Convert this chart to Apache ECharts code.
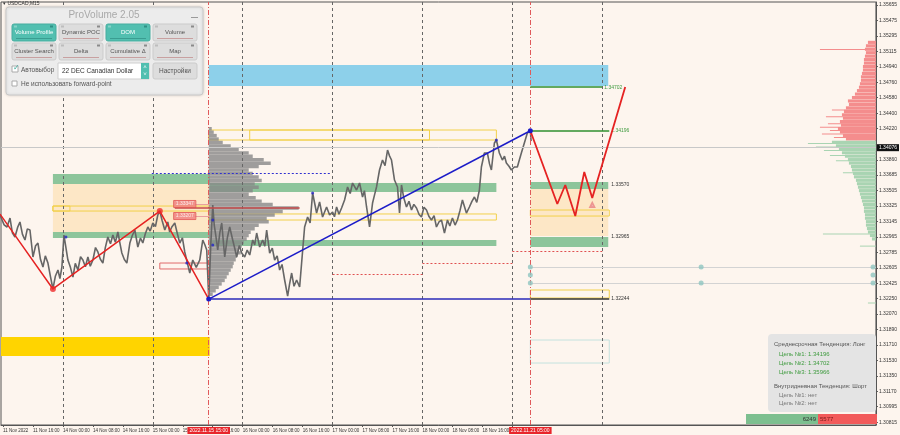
<!DOCTYPE html>
<html>
<head>
<meta charset="utf-8">
<script src="https://cdn.jsdelivr.net/npm/echarts@6/dist/echarts.min.js"></script>
<style>
  html, body { margin: 0; padding: 0; background: #fdf5ee; }
  #chart { width: 900px; height: 435px; }
</style>
</head>
<body>
<div id="chart"></div>
<script>
// time axis: trading hours counted from 11 Nov 2022 00:00, weekend removed
const X_MIN = 7.467, X_MAX = 241.07;
const Y_MIN = 1.30783, Y_MAX = 1.3569;

const dateTicks = [8, 16, 24, 32, 40, 48, 56, 64, 72, 80, 88, 96, 104, 112, 120, 128, 136, 144];
const dateLabels = ['11 Nov 2022', '11 Nov 16:00', '14 Nov 00:00', '14 Nov 08:00', '14 Nov 16:00',
  '15 Nov 00:00', '15 Nov 08:00', '15 Nov 16:00', '16 Nov 00:00', '16 Nov 08:00', '16 Nov 16:00',
  '17 Nov 00:00', '17 Nov 08:00', '17 Nov 16:00', '18 Nov 00:00', '18 Nov 08:00', '18 Nov 16:00', '21 Nov 00:00'];
const dayStarts = [24, 48, 72, 96, 120, 144, 168];
const priceTicks = [1.35655, 1.35475, 1.35295, 1.35115, 1.3494, 1.3476, 1.3458, 1.344, 1.3422,
  1.3386, 1.33685, 1.33505, 1.33325, 1.33145, 1.32965, 1.32785, 1.32605, 1.32425, 1.3225,
  1.3207, 1.3189, 1.3171, 1.3153, 1.3135, 1.3117, 1.30995, 1.30815];

// USDCAD M15 price path
const priceHours = [7.2, 7.73, 8.3, 9.07, 9.87, 10.5, 11.2, 11.9, 12.53, 13.2, 13.87, 14.5, 15.2, 16.0,
  16.7, 17.33, 18.0, 18.67, 19.3, 20.0, 20.7, 21.33, 22.0, 22.67, 23.2, 23.73, 24.27, 24.8, 25.33,
  26.0, 26.67, 27.3, 28.0, 28.7, 29.33, 30.0, 30.67, 31.3, 32.0, 32.7, 33.33, 34.0, 34.67, 35.3,
  36.0, 36.7, 37.33, 38.0, 38.67, 39.2, 39.73, 40.4, 41.07, 41.87, 42.5, 43.2, 44.0, 44.7, 45.33,
  46.0, 46.67, 47.3, 48.0, 48.7, 49.33, 49.87, 50.5, 51.2, 52.0, 52.5, 53.07, 53.87, 54.5, 55.2,
  55.9, 56.53, 57.2, 57.87, 58.67, 59.6, 60.53, 61.33, 61.9, 62.4, 62.93,
  63.47, 64.0, 64.4, 64.8, 65.33, 65.9, 66.4, 67.2, 67.9, 68.53, 69.33, 69.9, 70.4, 71.1, 71.73,
  72.53, 73.2, 73.87, 74.67, 75.2, 75.73, 76.53, 77.33, 77.9, 78.4, 79.2, 79.9, 80.53, 81.2,
  81.87, 82.5, 83.2, 84.0, 84.5, 85.07, 85.7, 86.4, 87.2, 87.73, 88.53, 89.33, 90.0, 90.67, 91.73,
  92.53, 93.33, 94.4, 95.2, 96.0, 96.5, 97.07, 97.7, 98.4, 99.2, 100.0, 100.7, 101.33, 102.4,
  103.2, 104.0, 104.5, 105.07, 105.87, 106.67, 107.2, 107.73, 108.53, 109.33, 110.0, 110.67,
  111.2, 111.73, 112.53, 113.33, 113.87, 114.4, 115.0, 115.73, 116.4, 117.07, 117.7, 118.4,
  119.1, 119.73, 120.4, 121.07, 121.7, 122.4, 123.1, 123.73, 124.4, 125.07, 125.87, 126.67,
  127.3, 128.0, 128.7, 129.33, 130.0, 130.67, 131.73, 132.53, 133.2, 133.87, 134.5, 135.2,
  135.73, 136.53, 137.33, 137.9, 138.4, 139.2, 139.73, 140.53, 141.33, 141.9, 142.4, 143.1,
  143.73, 144.53, 145.33, 145.9, 146.4, 147.2, 148.0, 148.8, 149.0];
const priceClose = [1.33219, 1.33196, 1.33105, 1.3308, 1.33184, 1.33012, 1.32964, 1.33075, 1.33138,
  1.32995, 1.32929, 1.33058, 1.33045, 1.32732, 1.32862, 1.32894, 1.32705, 1.32616, 1.32745, 1.32662,
  1.32498, 1.32361, 1.32512, 1.32581, 1.32482, 1.32616, 1.32987, 1.32842, 1.32697, 1.32612, 1.325,
  1.32658, 1.32581, 1.32735, 1.32697, 1.32618, 1.32732, 1.32625, 1.32697, 1.32842, 1.3279, 1.32705,
  1.32662, 1.32838, 1.32964, 1.32885, 1.32987, 1.32902, 1.33022, 1.32895, 1.32778, 1.32702, 1.32662,
  1.32894, 1.32978, 1.33045, 1.32848, 1.32952, 1.32894, 1.33002, 1.3308, 1.33032, 1.33126, 1.33085,
  1.33219, 1.33265, 1.33152, 1.33045, 1.33138, 1.33022, 1.3308, 1.33126, 1.33012, 1.32894, 1.32955,
  1.3279, 1.32668, 1.32546, 1.32697, 1.32612, 1.32697, 1.32929, 1.32874, 1.32813, 1.32244,
  1.32871, 1.33335, 1.33102, 1.32987, 1.32813, 1.33015, 1.33126, 1.32732, 1.32955, 1.3308, 1.32929,
  1.32828, 1.32732, 1.32865, 1.32778, 1.32732, 1.32812, 1.32755, 1.32929, 1.32872, 1.3301, 1.32848,
  1.32929, 1.32858, 1.33045, 1.32778, 1.32835, 1.32697, 1.32745, 1.32581, 1.32645, 1.32465, 1.32279,
  1.32415, 1.32546, 1.32392, 1.32465, 1.32384, 1.32662, 1.3308, 1.33196, 1.33128, 1.33474, 1.33242,
  1.3337, 1.33196, 1.33312, 1.33219, 1.33254, 1.33198, 1.33312, 1.33228, 1.333, 1.33393, 1.33544,
  1.33468, 1.3359, 1.33509, 1.3359, 1.33428, 1.33502, 1.33312, 1.3308, 1.33358, 1.33452, 1.33544,
  1.33741, 1.33857, 1.33792, 1.33973, 1.33905, 1.33857, 1.33625, 1.33544, 1.33242, 1.33567,
  1.33418, 1.33312, 1.33378, 1.33277, 1.33342, 1.333, 1.33225, 1.33196, 1.3331, 1.33277, 1.33205,
  1.33161, 1.33212, 1.3308, 1.33138, 1.33161, 1.3301, 1.33161, 1.33092, 1.33184, 1.33102, 1.33161,
  1.33268, 1.33393, 1.33242, 1.33312, 1.33378, 1.33428, 1.33365, 1.33509, 1.33776, 1.33938, 1.33938,
  1.33812, 1.33741, 1.34054, 1.34089, 1.33938, 1.33857, 1.33902, 1.33822, 1.33785, 1.33741, 1.33776,
  1.33776, 1.33862, 1.33938, 1.34054, 1.3417, 1.34196, 1.34076];
const lastPrice = 1.34076;

// zigzag, trend and forecast
const zigHours = [7.2, 21.33, 49.87, 62.93];
const zigPrices = [1.3323, 1.32361, 1.33265, 1.32244];
const trendHours = [62.93, 148.8];
const trendPrices = [1.32244, 1.34196];
const fcHours = [148.8, 156.0, 158.13, 160.8, 163.2, 165.33, 174.13];
const fcPrices = [1.34196, 1.33347, 1.33567, 1.33207, 1.33718, 1.33416, 1.34704];
const targets = [1.34196, 1.34702, 1.35966];

// volume profiles [price, volume]
const leftProfile = [[1.3422, 3], [1.3418, 5], [1.3414, 8], [1.341, 10], [1.3406, 14], [1.3402, 22],
  [1.3398, 30], [1.3394, 40], [1.339, 44], [1.3386, 55], [1.3382, 62], [1.3378, 50], [1.3374, 40],
  [1.337, 44], [1.3366, 50], [1.3362, 53], [1.3358, 46], [1.3354, 50], [1.335, 44], [1.3346, 40],
  [1.3342, 47], [1.3338, 53], [1.3334, 64], [1.333, 90], [1.3326, 74], [1.3322, 66], [1.3318, 58],
  [1.3314, 60], [1.331, 50], [1.3306, 46], [1.3302, 42], [1.3298, 40], [1.3294, 38], [1.329, 35],
  [1.3286, 33], [1.3282, 30], [1.3278, 32], [1.3274, 28], [1.327, 27], [1.3266, 25], [1.3262, 24],
  [1.3258, 22], [1.3254, 20], [1.325, 18], [1.3246, 16], [1.3242, 13], [1.3238, 10], [1.3234, 7], [1.323, 4]];
const sellProfile = [[1.3522, 8], [1.3518, 10], [1.3514, 11], [1.351, 10], [1.3506, 11], [1.3502, 12],
  [1.3498, 12], [1.3494, 13], [1.349, 13], [1.3486, 14], [1.3482, 15], [1.3478, 15], [1.3474, 16],
  [1.347, 17], [1.3466, 19], [1.3462, 21], [1.3458, 24], [1.3454, 28], [1.345, 27], [1.3446, 30],
  [1.3442, 32], [1.3438, 34], [1.3434, 33], [1.343, 36], [1.3426, 35], [1.3422, 38], [1.3418, 36],
  [1.3414, 33], [1.341, 30]];
const sellSpikes = [[1.3514, 56], [1.3444, 44], [1.3436, 50], [1.3428, 48], [1.3424, 56], [1.342, 46],
  [1.3416, 54], [1.3412, 42]];
const buyProfile = [[1.3406, 44], [1.3402, 40], [1.3398, 37], [1.3394, 34], [1.339, 31], [1.3386, 28],
  [1.3382, 27], [1.3378, 25], [1.3374, 24], [1.337, 23], [1.3366, 22], [1.3362, 20], [1.3358, 19],
  [1.3354, 18], [1.335, 17], [1.3346, 16], [1.3342, 15], [1.3338, 14], [1.3334, 13], [1.333, 12],
  [1.3326, 12], [1.3322, 11], [1.3318, 11], [1.3314, 10], [1.331, 10], [1.3306, 9], [1.3302, 8],
  [1.3298, 6], [1.3294, 4]];
const buySpikes = [[1.3405, 68], [1.3401, 60], [1.3397, 52], [1.3391, 46], [1.3385, 40], [1.3371, 33],
  [1.33, 53], [1.3286, 16], [1.322, 8], [1.318, 6], [1.3158, 20]];
const buyTotal = 6249, sellTotal = 5577;

const FONT = 'Liberation Sans, Arial, sans-serif';
const zip = (a, b) => a.map((v, i) => [v, b[i]]);

const chart = echarts.init(document.getElementById('chart'));

function profile(bins, anchor, dir, color, binH, gap) {
  return {
    type: 'custom', silent: true, z: 2, data: bins,
    renderItem(params, api) {
      const p = api.value(0);
      const w = api.value(1);
      const a = api.coord([anchor, p + binH / 2]);
      const b = api.coord([anchor, p - binH / 2]);
      return {
        type: 'rect',
        shape: { x: dir > 0 ? a[0] : a[0] - w, y: a[1], width: w, height: Math.max(1, b[1] - a[1] - gap) },
        style: { fill: color }
      };
    }
  };
}

function box(x1, p1, x2, p2, style) {
  return [{ coord: [x1, p1], itemStyle: style }, { coord: [x2, p2] }];
}
const green = { color: '#8dc59b' };
const orange = { color: '#fde7c6' };
const yellowLine = { color: 'rgba(0,0,0,0)', borderColor: '#f2d04a', borderWidth: 1 };

function seg(x1, x2, p, color, width, type, label) {
  return [{
    coord: [x1, p], lineStyle: { color, width, type },
    label: label ? { show: true, position: 'end', distance: 2, formatter: label.text, color: label.color,
      fontSize: 5, fontFamily: FONT } : { show: false }
  }, { coord: [x2, p] }];
}

// panel drawing helpers
function txt(x, y, text, size, color, align) {
  return { type: 'text', x, y, z: 101, style: { text, fill: color, fontSize: size, fontFamily: FONT,
    textAlign: align || 'left', textVerticalAlign: 'middle' } };
}
function btn(x, y, label, active) {
  return [
    { type: 'rect', z: 100, shape: { x, y, width: 44, height: 17, r: 2 },
      style: { fill: active ? '#52bfb0' : '#dddddd', stroke: active ? '#47ad9f' : '#cbcbcb' } },
    { type: 'rect', z: 101, shape: { x: x + 2, y: y + 1.5, width: 3, height: 2 }, style: { fill: active ? '#86d3c8' : '#bdbdbd' } },
    { type: 'rect', z: 101, shape: { x: x + 38, y: y + 1.5, width: 3, height: 2 }, style: { fill: active ? '#2f8f84' : '#8a8a8a' } },
    { type: 'rect', z: 101, shape: { x: x + 4, y: y + 14, width: 36, height: 1 }, style: { fill: active ? '#3a9d91' : '#c8a0a0' } },
    txt(x + 22, y + 8.5, label, 6, active ? '#ffffff' : '#555555', 'center')
  ];
}

const panel = [
  { type: 'rect', z: 100, shape: { x: 6, y: 7, width: 197, height: 88, r: 3 },
    style: { fill: '#ececec', stroke: '#c9c9c9', shadowBlur: 3, shadowColor: 'rgba(0,0,0,0.15)' } },
  txt(104, 15, 'ProVolume 2.05', 10, '#a9a9a9', 'center'),
  { type: 'rect', z: 101, shape: { x: 191, y: 17, width: 7, height: 1 }, style: { fill: '#9a9a9a' } },
  ...btn(12, 24, 'Volume Profile', true), ...btn(59, 24, 'Dynamic POC', false),
  ...btn(106, 24, 'DOM', true), ...btn(153, 24, 'Volume', false),
  ...btn(12, 43, 'Cluster Search', false), ...btn(59, 43, 'Delta', false),
  ...btn(106, 43, 'Cumulative Δ', false), ...btn(153, 43, 'Map', false),
  { type: 'rect', z: 101, shape: { x: 12, y: 66, width: 6, height: 6 }, style: { fill: '#fff', stroke: '#aaa' } },
  txt(13, 67.5, '✓', 8, '#3aa99b'),
  txt(21, 70.5, 'Автовыбор', 6.5, '#555'),
  { type: 'rect', z: 100, shape: { x: 58, y: 63, width: 91, height: 16 }, style: { fill: '#fff', stroke: '#cfcfcf' } },
  txt(62, 71, '22 DEC Canadian Dollar', 6.5, '#333'),
  { type: 'rect', z: 101, shape: { x: 141, y: 63, width: 8, height: 16 }, style: { fill: '#52bfb0' } },
  txt(145, 67.5, '˄', 6, '#fff', 'center'), txt(145, 74.5, '˅', 6, '#fff', 'center'),
  { type: 'rect', z: 100, shape: { x: 153, y: 63, width: 44, height: 16, r: 2 }, style: { fill: '#dddddd', stroke: '#cbcbcb' } },
  txt(175, 71, 'Настройки', 6.5, '#555', 'center'),
  { type: 'rect', z: 101, shape: { x: 12, y: 81, width: 5, height: 5 }, style: { fill: '#fff', stroke: '#aaa' } },
  txt(21, 84, 'Не использовать forward-point', 6.5, '#555'),
  txt(3, 4, '▾ USDCAD,M15', 5, '#333')
];

const info = [
  { type: 'rect', z: 100, shape: { x: 768, y: 334, width: 108, height: 78, r: 4 }, style: { fill: '#e4e4e4' } },
  txt(774, 344, 'Среднесрочная Тенденция: Лонг', 6, '#555'),
  txt(779, 354, 'Цель №1: ' + targets[0].toFixed(5), 6, '#3f9b3f'),
  txt(779, 363, 'Цель №2: ' + targets[1].toFixed(5), 6, '#3f9b3f'),
  txt(779, 372, 'Цель №3: ' + targets[2].toFixed(5), 6, '#3f9b3f'),
  txt(774, 386, 'Внутридневная Тенденция: Шорт', 6, '#555'),
  txt(779, 395, 'Цель №1: нет', 6, '#777'),
  txt(779, 403, 'Цель №2: нет', 6, '#777'),
  { type: 'rect', z: 100, shape: { x: 746, y: 414, width: 72, height: 10 }, style: { fill: '#7dbf8f' } },
  { type: 'rect', z: 100, shape: { x: 818, y: 414, width: 59, height: 10 }, style: { fill: '#f25a5a' } },
  txt(816, 419, String(buyTotal), 6, '#333', 'right'),
  txt(820, 419, String(sellTotal), 6, '#7a1a1a')
];

const option = {
  animation: false,
  backgroundColor: '#fdf5ee',
  grid: { left: 1, right: 23, top: 2, bottom: 10, show: true, backgroundColor: '#fdf5ee',
    borderColor: '#555', borderWidth: 1 },
  xAxis: {
    type: 'value', min: X_MIN, max: X_MAX,
    axisLine: { show: true, lineStyle: { color: '#555' } },
    axisTick: { show: true, customValues: dateTicks, length: 2, lineStyle: { color: '#555' } },
    axisLabel: { customValues: dateTicks, formatter: v => dateLabels[dateTicks.indexOf(v)] || '',
      fontSize: 4.5, color: '#333', fontFamily: FONT, align: 'left', margin: 3 },
    splitLine: { show: false }
  },
  yAxis: {
    type: 'value', position: 'right', min: Y_MIN, max: Y_MAX, scale: true,
    axisLine: { show: true, lineStyle: { color: '#555' } },
    axisTick: { show: true, customValues: priceTicks, length: 2, lineStyle: { color: '#555' } },
    axisLabel: { customValues: priceTicks, formatter: v => v.toFixed(5), fontSize: 5, color: '#333',
      fontFamily: FONT, margin: 3 },
    splitLine: { show: false }
  },
  graphic: [...panel, ...info],
  series: [
    {
      name: 'zones', type: 'line', data: [], z: 1, silent: true,
      markArea: {
        silent: true,
        data: [
          box(21.33, 1.33579, 63.2, 1.33022, orange),
          box(148.8, 1.33521, 169.6, 1.32975, orange),
          box(21.33, 1.33695, 63.2, 1.33579, green),
          box(21.33, 1.33022, 63.2, 1.32953, green),
          box(63.2, 1.3359, 139.73, 1.33486, green),
          box(63.2, 1.32929, 139.73, 1.32859, green),
          box(148.8, 1.33602, 169.6, 1.33521, green),
          box(148.8, 1.32964, 169.6, 1.32848, green),
          box(21.33, 1.33323, 63.2, 1.33265, yellowLine),
          box(21.33, 1.33323, 25.87, 1.33265, yellowLine),
          box(62.93, 1.33231, 139.73, 1.33161, yellowLine),
          box(62.93, 1.34205, 139.73, 1.34089, yellowLine),
          box(73.87, 1.34205, 121.87, 1.34089, yellowLine),
          box(148.8, 1.33277, 169.87, 1.33207, yellowLine),
          box(148.8, 1.32349, 169.87, 1.32256, yellowLine),
          box(62.93, 1.34959, 169.6, 1.34715, { color: '#8dd0ea' }),
          box(X_MIN, 1.31804, 63.2, 1.31583, { color: '#ffd400' }),
          box(49.87, 1.32662, 63.2, 1.32593, { color: 'rgba(0,0,0,0)', borderColor: '#e06a6a', borderWidth: 1 }),
          box(148.8, 1.31769, 169.87, 1.31502, { color: 'rgba(0,0,0,0)', borderColor: '#c4e2de', borderWidth: 1 })
        ]
      }
    },
    profile(leftProfile, 62.93, 1, 'rgba(135,135,135,0.8)', 0.0004, 0),
    profile(sellProfile, X_MAX, -1, '#f48d8d', 0.0004, 0.3),
    profile(sellSpikes, X_MAX, -1, '#f48d8d', 0.00008, 0),
    profile(buyProfile, X_MAX, -1, '#a9d4b2', 0.0004, 0.3),
    profile(buySpikes, X_MAX, -1, '#a9d4b2', 0.00008, 0),
    {
      name: 'levels', type: 'line', data: [], z: 3, silent: true,
      markLine: {
        silent: true, symbol: 'none',
        data: [
          ...dayStarts.map(d => ({ xAxis: d, lineStyle: { color: '#666', width: 1, type: [3, 3] }, label: { show: false } })),
          { xAxis: 62.93, lineStyle: { color: '#e05a5a', width: 1, type: [5, 2, 1, 2] },
            label: { show: true, position: 'start', distance: 2, formatter: '2022.11.15 15:00', color: '#fff',
              backgroundColor: '#e8262b', padding: [1, 2], fontSize: 5, fontFamily: FONT } },
          { xAxis: 148.8, lineStyle: { color: '#e05a5a', width: 1, type: [5, 2, 1, 2] },
            label: { show: true, position: 'start', distance: 2, formatter: '2022.11.21 05:00', color: '#fff',
              backgroundColor: '#e8262b', padding: [1, 2], fontSize: 5, fontFamily: FONT } },
          { yAxis: lastPrice, lineStyle: { color: '#c8c8c8', width: 1, type: 'solid' },
            label: { show: true, position: 'end', distance: 1, formatter: lastPrice.toFixed(5), color: '#fff',
              backgroundColor: '#111', padding: [1, 2], fontSize: 5, fontFamily: FONT } },
          seg(148.8, X_MAX, 1.32616, '#d3d3d3', 1, 'solid'),
          seg(148.8, X_MAX, 1.3243, '#d3d3d3', 1, 'solid'),
          seg(62.93, 148.8, 1.32244, '#2a2ab8', 1.5, 'solid'),
          seg(148.8, 169.87, 1.32244, '#333', 1.5, 'solid', { text: '1.32244', color: '#333' }),
          seg(148.8, 168, targets[1], '#2f8f2f', 1.5, 'solid', { text: '1.34702', color: '#3f9b3f' }),
          seg(148.8, 169.87, targets[0], '#2f8f2f', 1.5, 'solid', { text: '1.34196', color: '#3f9b3f' }),
          seg(148.8, 169.87, 1.3357, 'rgba(0,0,0,0)', 1, 'solid', { text: '1.33570', color: '#333' }),
          seg(148.8, 169.87, 1.32965, 'rgba(0,0,0,0)', 1, 'solid', { text: '1.32965', color: '#333' }),
          seg(53.87, 87.2, 1.333, '#c44a4a', 1.5, 'solid'),
          seg(59.2, 63.2, 1.33347, '#e8a0a0', 1, 'solid'),
          seg(59.2, 63.2, 1.33207, '#e8a0a0', 1, 'solid'),
          seg(47.73, 95.73, 1.33706, '#3030d0', 1, [2, 2]),
          seg(96, 120, 1.32535, '#e05050', 1, [2, 2]),
          seg(120, 144, 1.32662, '#e05050', 1, [2, 2]),
          seg(144, 168, 1.32801, '#e05050', 1, [2, 2])
        ]
      }
    },
    {
      name: 'USDCAD', type: 'line', data: zip(priceHours, priceClose), z: 4, symbol: 'none',
      lineStyle: { color: '#666666', width: 1.6 }
    },
    {
      name: 'zigzag', type: 'line', data: zip(zigHours, zigPrices), z: 5, symbol: 'none',
      lineStyle: { color: '#e52222', width: 1.5 }
    },
    {
      name: 'trend', type: 'line', data: zip(trendHours, trendPrices), z: 5, symbol: 'circle', symbolSize: 5,
      itemStyle: { color: '#1c1cc8' }, lineStyle: { color: '#1c1cc8', width: 1.5 }
    },
    {
      name: 'forecast', type: 'line', data: zip(fcHours, fcPrices), z: 5, symbol: 'none',
      lineStyle: { color: '#e52222', width: 1.8 }
    },
    {
      name: 'swings', type: 'scatter', z: 6, symbolSize: 6, itemStyle: { color: '#ee2a2a' },
      data: [[zigHours[1], zigPrices[1]], [zigHours[2], zigPrices[2]]]
    },
    {
      name: 'fractals', type: 'scatter', z: 6, symbolSize: 3, itemStyle: { color: '#2424c8' },
      data: [[24.8, 1.32964], [90.67, 1.33474], [139.73, 1.34089], [64, 1.33161], [64, 1.32871], [57.07, 1.32662]]
    },
    {
      name: 'pivots', type: 'scatter', z: 6, symbolSize: 5, itemStyle: { color: '#8ec5c1' },
      data: [[148.8, 1.32616], [148.8, 1.32523], [148.8, 1.3243], [194.4, 1.32616], [194.4, 1.3243],
        [240.3, 1.32616], [240.3, 1.32523], [240.3, 1.3243]]
    },
    {
      name: 'mark', type: 'scatter', z: 6, symbol: 'emptyTriangle', symbolSize: 4, itemStyle: { color: '#e87f7f' },
      data: [[165.33, 1.33335]]
    },
    {
      name: 'tags', type: 'scatter', z: 7, symbolSize: 0,
      label: { show: true, position: 'inside', formatter: p => p.value[1].toFixed(5), color: '#fff',
        backgroundColor: '#ef7d7d', borderColor: '#d83a3a', borderWidth: 0.5, padding: [1, 2],
        fontSize: 5, fontFamily: FONT },
      data: [[56.53, 1.33347], [56.53, 1.33207]]
    }
  ]
};
chart.setOption(option);
</script>
</body>
</html>
